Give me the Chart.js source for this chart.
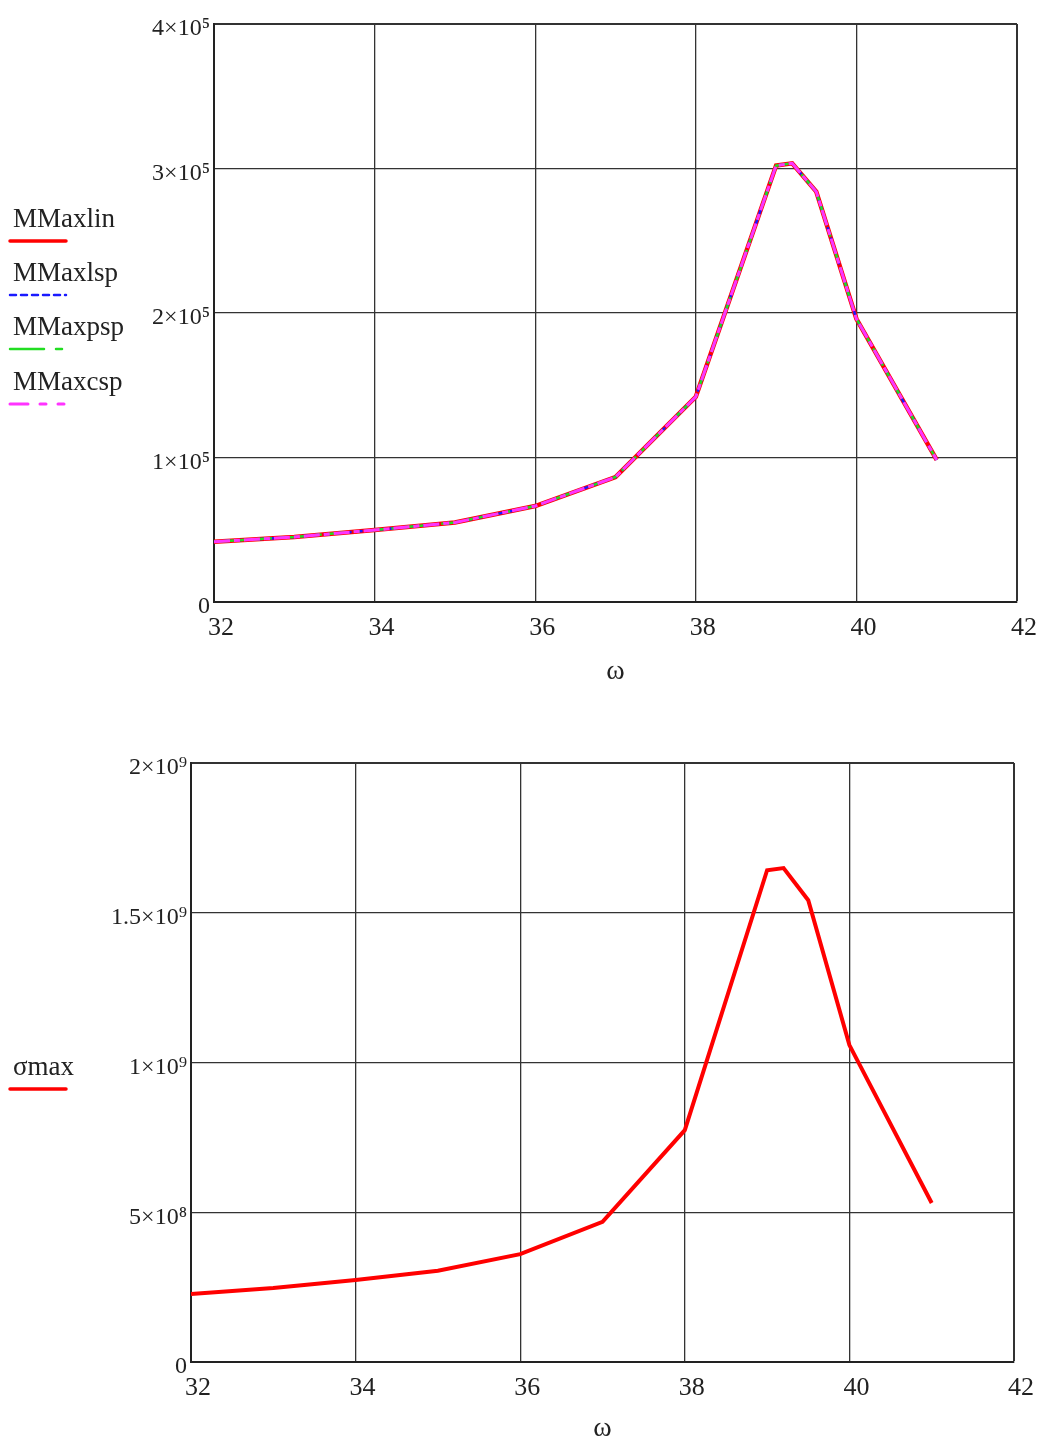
<!DOCTYPE html>
<html>
<head>
<meta charset="utf-8">
<script src="https://cdn.jsdelivr.net/npm/chart.js@4.4.0/dist/chart.umd.min.js"></script>
<style>
  body { margin: 0; background: #fff; width: 1041px; height: 1445px; position: relative; overflow: hidden; font-family: "Liberation Serif", serif; }
  .wrap { position: absolute; left: 0; width: 1041px; }
  .legend { position: absolute; left: 0; top: 0; }
  .item { position: absolute; left: 8px; width: 160px; }
  .item span { position: absolute; left: 5px; font-size: 27px; color: #222; white-space: nowrap; line-height: 27px; }
  .item svg { position: absolute; left: 0; }
</style>
</head>
<body>
<div class="wrap" style="top:0;height:700px"><canvas id="top"></canvas><div class="legend" id="legTop"></div></div>
<div class="wrap" style="top:720px;height:725px"><canvas id="bottom"></canvas><div class="legend" id="legBottom"></div></div>
<script>
// omega values (x axis), shared by both charts
const omega = [32, 33, 34, 35, 36, 37, 38, 39, 39.2, 39.5, 40, 41];

// top chart: max moment by method
const mMaxLin = [41700, 45000, 49800, 55000, 66400, 86500, 142000, 302000, 303600, 284000, 196000, 98300];
const mMaxLsp = [41700, 45000, 49800, 55000, 66400, 86500, 142000, 302000, 303600, 284000, 196000, 98300];
const mMaxPsp = [41700, 45000, 49800, 55000, 66400, 86500, 142000, 302000, 303600, 284000, 196000, 98300];
const mMaxCsp = [41700, 45000, 49800, 55000, 66400, 86500, 142000, 302000, 303600, 284000, 196000, 98300];

// bottom chart: max stress
const sigmaMax = [2.27e8, 2.47e8, 2.74e8, 3.05e8, 3.60e8, 4.68e8, 7.74e8, 1.642e9, 1.649e9, 1.542e9, 1.058e9, 5.31e8];

const xTicks = [32, 34, 36, 38, 40, 42];
const topTicks = ['0', '1×10⁵', '2×10⁵', '3×10⁵', '4×10⁵'];
const bottomTicks = ['0', '5×10⁸', '1×10⁹', '1.5×10⁹', '2×10⁹'];

const serif = '"Liberation Serif", "Times New Roman", serif';

function pts(ys) {
    return omega.map((x, i) => ({ x: x, y: ys[i] }));
}

function gridWidth(max) {
    return ctx => (ctx.tick && ctx.tick.value === max) ? 2 : 1.3;
}

function makeChart(id, datasets, yMax, yStep, yLabels, box) {
    const canvas = document.getElementById(id);
    canvas.width = 1041;
    canvas.height = box.height;
    return new Chart(canvas, {
        type: 'line',
        data: { datasets: datasets },
        options: {
            responsive: false,
            animation: false,
            devicePixelRatio: 1,
            layout: { padding: { top: box.top, right: box.right, left: 0, bottom: 0 } },
            plugins: { legend: { display: false }, tooltip: { enabled: false } },
            elements: { point: { radius: 0 }, line: { tension: 0 } },
            scales: {
                x: {
                    type: 'linear',
                    min: 32, max: 42,
                    afterFit: s => { s.height = box.xHeight; },
                    afterBuildTicks: s => { s.ticks = xTicks.map(v => ({ value: v })); },
                    ticks: {
                        color: '#222',
                        font: { family: serif, size: 26 },
                        padding: 11,
                        labelOffset: 7,
                        maxRotation: 0,
                        autoSkip: false
                    },
                    grid: { color: '#333', lineWidth: gridWidth(42), drawTicks: false },
                    border: { display: true, color: '#222', width: 2 },
                    title: {
                        display: true, text: 'ω', color: '#222',
                        font: { family: serif, size: 28 },
                        padding: { top: 0, bottom: box.titlePad }
                    }
                },
                y: {
                    min: 0, max: yMax,
                    afterFit: s => { s.width = box.left; },
                    ticks: {
                        stepSize: yStep,
                        color: '#222',
                        font: { family: serif, size: 24 },
                        padding: 4,
                        labelOffset: 5,
                        callback: (v, i) => yLabels[Math.round(v / yStep)]
                    },
                    grid: { color: '#333', lineWidth: gridWidth(yMax), drawTicks: false },
                    border: { display: true, color: '#222', width: 2 }
                }
            }
        }
    });
}

function buildLegend(el, datasets, rows) {
    datasets.forEach((d, i) => {
        const item = document.createElement('div');
        item.className = 'item';
        item.style.top = rows[i] + 'px';
        const dash = d.legendDash ? d.legendDash.join(',') : 'none';
        item.innerHTML = '<span style="top:-14px">' + d.label + '</span>' +
            '<svg width="70" height="10" style="top:17px"><line x1="2" y1="5" x2="58" y2="5" stroke="' +
            d.borderColor + '" stroke-width="' + Math.min(d.borderWidth, 3.5) + '" stroke-dasharray="' + dash + '" stroke-linecap="round"/></svg>';
        el.appendChild(item);
    });
}

const topSets = [
    { label: 'MMaxlin', data: pts(mMaxLin), borderColor: '#ff0000', borderWidth: 4.5, order: 4 },
    { label: 'MMaxlsp', data: pts(mMaxLsp), borderColor: '#1a1aff', borderWidth: 2.5, borderDash: [6, 5],
      legendDash: [6, 5], order: 3 },
    { label: 'MMaxpsp', data: pts(mMaxPsp), borderColor: '#22dd22', borderWidth: 2.5, borderDash: [20, 6, 6, 6],
      legendDash: [34, 12, 6, 12], order: 2 },
    { label: 'MMaxcsp', data: pts(mMaxCsp), borderColor: '#ff33ff', borderWidth: 3, borderDash: [16, 4, 6, 4],
      legendDash: [18, 12, 6, 12, 6, 12], order: 1 }
];

const bottomSets = [
    { label: 'σmax', data: pts(sigmaMax), borderColor: '#ff0000', borderWidth: 4 }
];

makeChart('top', topSets, 4e5, 1e5, topTicks,
    { height: 700, top: 24, right: 24, left: 214, xHeight: 98, titlePad: 12 });
makeChart('bottom', bottomSets, 2e9, 5e8, bottomTicks,
    { height: 725, top: 43, right: 27, left: 191, xHeight: 83, titlePad: 0 });

buildLegend(document.getElementById('legTop'), topSets, [219, 273, 327, 382]);
buildLegend(document.getElementById('legBottom'), bottomSets, [347]);
</script>
</body>
</html>
